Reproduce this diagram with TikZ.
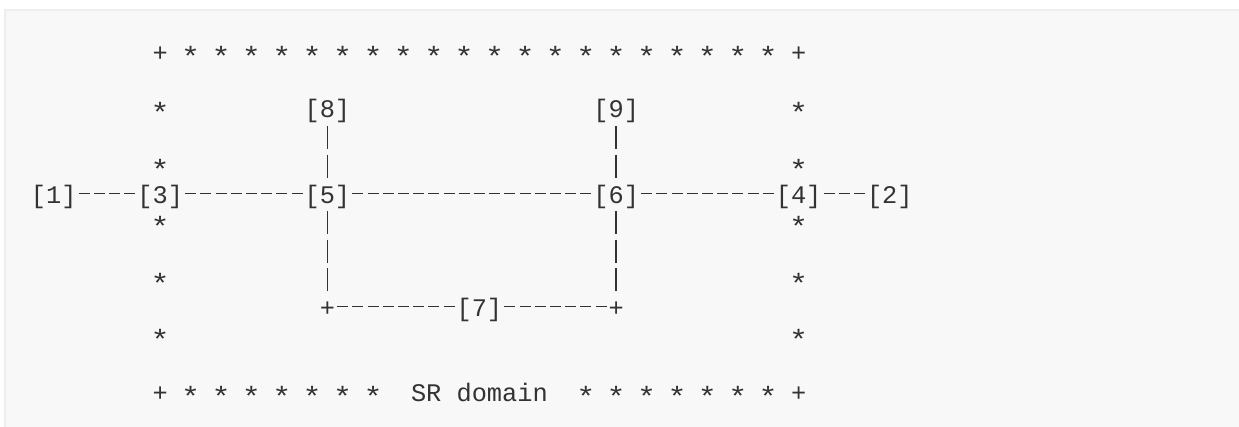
\documentclass[tikz,border=0pt]{standalone}
\usepackage{fontspec}
\usepackage{graphicx}
\setmonofont{Liberation Mono}
\definecolor{ink}{HTML}{333333}
\definecolor{bgfill}{HTML}{F8F8F8}
\definecolor{bgline}{HTML}{EEEEEE}
\newcommand{\starglyph}{\raisebox{-0.2em}{\scalebox{1.25}[1.1]{*}}}
\begin{document}
\begin{tikzpicture}[
  glyph/.style={inner sep=0pt, outer sep=0pt, text height=10.765pt, text depth=2.254pt,
    font=\ttfamily\fontsize{12.665pt}{14pt}\selectfont, text=ink, anchor=center},
  hconn/.style={draw=ink, line width=0.75pt, dash pattern=on 5.5pt off 2.1pt, dash phase=6.55pt},
  vconn/.style={draw=ink, line width=0.75pt, dash pattern=on 11.5pt off 2.68pt, dash phase=12.25pt},
]
\useasboundingbox (0,0) rectangle (619.5pt,-213.5pt);
\fill[white] (0,0) rectangle (619.5pt,-213.5pt);
\fill[bgfill] (2.6pt,-5.15pt) rectangle (619.5pt,-213.5pt);
\draw[bgline, line width=0.85pt] (2.6pt,-213.5pt) -- (2.6pt,-5.15pt) -- (619.5pt,-5.15pt);

\begin{scope}[shift={(19.3pt,-26.35pt)}, x=7.6pt, y=-14.18pt]
  % domain border
  \node[glyph] (tl) at (8,0) {+};
  \node[glyph] (tr) at (50,0) {+};
  \node[glyph] (bl) at (8,12) {+};
  \node[glyph] (br) at (50,12) {+};
  \foreach \c in {10,12,...,48} \node[glyph] (ts\c) at (\c,0) {\starglyph};
  \foreach \c in {10,12,...,22} \node[glyph] (bsl\c) at (\c,12) {\starglyph};
  \foreach \c in {36,38,...,48} \node[glyph] (bsr\c) at (\c,12) {\starglyph};
  \foreach \r in {2,4,6,8,10} {
    \node[glyph] (ls\r) at (8,\r) {\starglyph};
    \node[glyph] (rs\r) at (50,\r) {\starglyph};
  }
  \node[glyph] (label) at (29,12) {SR domain};

  % routers
  \node[glyph] (n1) at (1,5) {[1]};
  \node[glyph] (n3) at (8,5) {[3]};
  \node[glyph] (n5) at (19,5) {[5]};
  \node[glyph] (n6) at (38,5) {[6]};
  \node[glyph] (n4) at (50,5) {[4]};
  \node[glyph] (n2) at (56,5) {[2]};
  \node[glyph] (n8) at (19,2) {[8]};
  \node[glyph] (n9) at (38,2) {[9]};
  \node[glyph] (n7) at (29,9) {[7]};
  \node[glyph] (c1) at (19,9) {+};
  \node[glyph] (c2) at (38,9) {+};

  % horizontal links
  \foreach \a/\b in {n1/n3, n3/n5, n5/n6, n6/n4, n4/n2, c1/n7, n7/c2}
    \draw[hconn] ([yshift=0.6pt]\a.east) -- ([yshift=0.6pt]\b.west);
  % vertical links
  \foreach \a/\b in {n8/n5, n9/n6, n5/c1, n6/c2}
    \draw[vconn] (\a.south) -- (\b.north);
\end{scope}
\end{tikzpicture}
\end{document}
